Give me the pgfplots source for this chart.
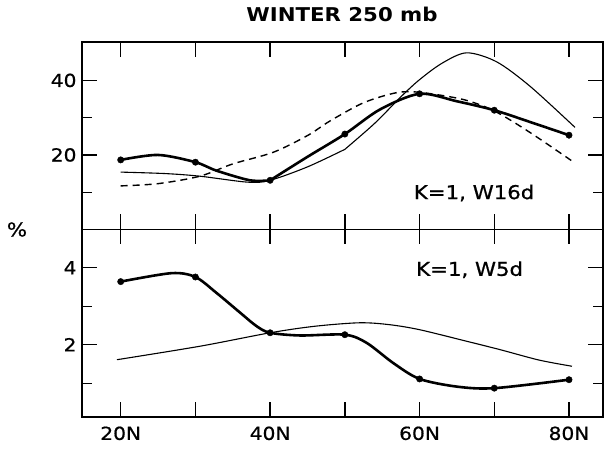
\documentclass[border=0pt]{standalone}
\usepackage{fontspec}
\setmainfont{DejaVu Sans}[FakeStretch=1.12]
\newfontfamily\lab{DejaVu Sans}[FakeStretch=1.12, FakeBold=0.8]
\usepackage{pgfplots}
\pgfplotsset{compat=1.18}
\pgfplotsset{
  panel/.style={
    scale only axis, width=521pt,
    xmin=14.82, xmax=84.55,
    xtick={20,30,...,80},
    axis line style={line width=1.5pt},
    major tick length=15pt, minor tick length=10pt,
    every tick/.style={line width=1.3pt, black},
    tick align=inside,
    /pgf/number format/assume math mode=true,
    ticklabel style={font=\lab\fontsize{18}{20}\selectfont},
    yticklabel style={xshift=-2pt},
    clip=false,
  },
  thickc/.style={black, line width=2.6pt, smooth, tension=0.5, no markers},
  thinc/.style={black, line width=1.1pt, smooth, tension=0.5, no markers},
  dashc/.style={black, line width=1.4pt, dash pattern=on 7pt off 5pt, smooth, tension=0.5, no markers},
  dotc/.style={black, only marks, mark=*, mark size=3.2pt},
}
\begin{document}
\begin{tikzpicture}
\useasboundingbox (0pt,0pt) rectangle (604pt,-451pt);

% ---------- top panel ----------
\begin{axis}[panel, at={(82pt,-42pt)}, anchor=north west, height=187.3pt,
  ymin=0.05, ymax=50.3, ytick={20,40}, minor ytick={10,30},
  xticklabels={}]
\addplot[thickc] coordinates {(20,18.67)(25,20.0)(30,18.06)(32.8,15.8)(37.3,13.2)(40,13.2)};
\addplot[thickc] coordinates {(40,13.2)(45,19.5)(50,25.6)(54.7,32.2)(60,36.4)(65,34.4)(70,32.0)(75,28.7)(80,25.3)};
\addplot[dotc] coordinates {(20,18.67)(30,18.06)(40,13.2)(50,25.6)(60,36.4)(70,32.0)(80,25.3)};
\addplot[thinc] coordinates {(20,15.4)(26,15.0)(30.6,14.3)(37,12.7)(40,13.2)(45,16.8)(50,21.5)};
\addplot[thinc] coordinates {(50,21.5)(54,28.5)(57.6,35.8)(60,40.2)(63,44.6)(66.3,47.4)(70.3,45.0)(74.8,38.4)(80.8,27.4)};
\addplot[dashc] coordinates {(20,11.7)(25,12.3)(30.6,14.3)(35,17.6)(40.4,20.7)(45,25.2)(48,29.1)(52.5,34.0)(56.9,36.7)(60,36.8)(65.8,34.9)(70,31.8)(74.8,26.0)(80.6,18.1)};
\node[font=\lab\fontsize{19}{21}\selectfont] at (axis cs:67.3,9.8) {K=1, W16d};
\end{axis}

% ---------- bottom panel ----------
\begin{axis}[panel, at={(82pt,-229.3pt)}, anchor=north west, height=187.7pt,
  ymin=0.12, ymax=5.0, ytick={2,4}, minor ytick={1,3},
  xticklabels={20N,,40N,,60N,,80N},
  xticklabel style={yshift=-6pt}]
\addplot[thickc] coordinates {(20,3.64)(26.8,3.86)(30,3.76)(32.8,3.35)(36,2.83)(38.2,2.48)(40,2.31)(44,2.24)(50,2.26)(52.9,2.05)(56.5,1.52)(60,1.11)(65,0.91)(70,0.87)(80,1.09)};
\addplot[dotc] coordinates {(20,3.64)(30,3.76)(40,2.31)(50,2.26)(60,1.11)(70,0.87)(80,1.09)};
\addplot[thinc] coordinates {(19.5,1.61)(30.6,1.96)(40,2.31)(46,2.48)(52,2.57)(56,2.52)(60,2.39)(66.3,2.09)(70.8,1.87)(76,1.6)(80.4,1.44)};
\node[font=\lab\fontsize{19}{21}\selectfont] at (axis cs:66.7,3.95) {K=1, W5d};
\end{axis}

\node[font=\bfseries\fontsize{19}{21}\selectfont] at (342pt,-14.5pt) {WINTER 250 mb};
\node[font=\lab\fontsize{19}{21}\selectfont] at (17pt,-229.5pt) {\%};
\end{tikzpicture}
\end{document}
